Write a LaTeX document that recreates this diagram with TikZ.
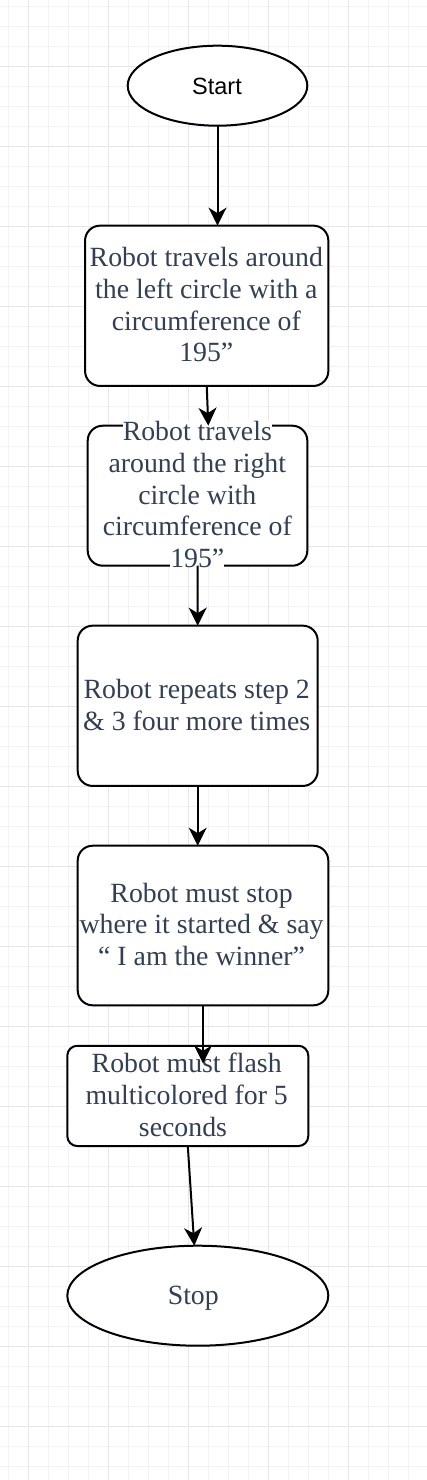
\documentclass[tikz,border=0pt]{standalone}
\usepackage{fontspec}
\usetikzlibrary{shapes.geometric,arrows.meta,calc}
\newfontfamily\serifbody{Liberation Serif}
\newfontfamily\sansbody{Liberation Sans}
\definecolor{slate}{HTML}{323F54}
\definecolor{gridmajor}{HTML}{E4E6EA}
\definecolor{gridminor}{HTML}{F2F3F6}
\tikzset{
  minorline/.style={draw=gridminor, line width=1pt},
  majorline/.style={draw=gridmajor, line width=1.3pt},
  flowbox/.style={draw, line width=2pt, rounded corners=15pt, fill=white, inner sep=0pt, outer sep=0pt},
  smallbox/.style={flowbox, rounded corners=10pt},
  term/.style={draw, ellipse, line width=2pt, fill=white, inner sep=0pt, outer sep=0pt},
  txt/.style={text=slate, font={\serifbody\fontsize{27.8pt}{31.7pt}\selectfont}, anchor=base, inner sep=0pt},
  bgtxt/.style={txt, fill=white},
  starttxt/.style={text=black, font={\sansbody\fontsize{23.5pt}{28pt}\selectfont}, anchor=base, inner sep=0pt},
  arr/.style={line width=2pt, -{Stealth[length=18pt,width=18pt,inset=5.5pt]}}
}
\begin{document}
\begin{tikzpicture}[x=1pt,y=-1pt]
\useasboundingbox (0,0) rectangle (427,1480);
\fill[white] (0,0) rectangle (427,1480);
% grid
\foreach \i in {0,...,20} \draw[minorline] ({8.3+20*\i},0) -- ({8.3+20*\i},1480);
\foreach \j in {0,...,73} \draw[minorline] (0,{6.5+20*\j}) -- (427,{6.5+20*\j});
\foreach \i in {0,...,4} \draw[majorline] ({28.3+80*\i},0) -- ({28.3+80*\i},1480);
\foreach \j in {0,...,17} \draw[majorline] (0,{66.5+80*\j}) -- (427,{66.5+80*\j});

% shapes
\node[term, minimum width=179.6pt, minimum height=80pt] (start) at (217.5,85.7) {};
\node[flowbox, minimum width=243.3pt, minimum height=160.3pt] (b1) at (206.7,305.8) {};
\node[flowbox, minimum width=219.6pt, minimum height=140pt] (b2) at (197.5,495.7) {};
\node[flowbox, minimum width=240pt, minimum height=160.3pt] (b3) at (197.7,705.8) {};
\node[flowbox, minimum width=250.6pt, minimum height=159.6pt] (b4) at (203,925.5) {};
\node[smallbox, minimum width=241pt, minimum height=100.3pt] (b5) at (187.8,1095.9) {};
\node[term, minimum width=261pt, minimum height=100pt] (stop) at (197.8,1295.7) {};

% texts
\node[starttxt] (tstart) at (217,94.2) {Start};

\node[txt] (t1a) at (206.3,266.7) {Robot travels around};
\node[txt] (t1b) at (206.3,298.4) {the left circle with a};
\node[txt] (t1c) at (206.3,330.1) {circumference of};
\node[txt] (t1d) at (206.3,361.8) {195”};

\node[bgtxt] (t2a) at (197.3,440.7) {Robot travels};
\node[bgtxt] (t2b) at (197.3,472.4) {around the right};
\node[bgtxt] (t2c) at (197.3,504.1) {circle with};
\node[bgtxt] (t2d) at (197.3,535.8) {circumference of};
\node[bgtxt] (t2e) at (197.3,567.5) {195”};

\node[txt] (t3a) at (196.7,698.4) {Robot repeats step 2};
\node[txt] (t3b) at (196.7,730.1) {\& 3 four more times};

\node[txt] (t4a) at (201.6,902.2) {Robot must stop};
\node[txt] (t4b) at (201.6,933.9) {where it started \& say};
\node[txt] (t4c) at (201.6,965.6) {“ I am the winner”};

\node[txt] (t5a) at (186.7,1072.6) {Robot must flash};
\node[txt] (t5b) at (186.7,1104.3) {multicolored for 5};
\node[txt] (t5c) at (183,1136) {seconds};

\node[txt] (tstop) at (193.3,1304.4) {Stop};

% connectors
\draw[arr] (start.south) -- (start.south |- b1.north);
\draw[arr] (b1.south) -- ($(b2.north)+(10.8,0)$);
\draw[arr] (b2.south) -- (b3.north);
\draw[arr] (b3.south) -- (b3.south |- b4.north);
\draw[arr] (b4.south) -- ($(b4.south |- b5.north)+(0,17.6)$);
\draw[arr] (b5.south) -- ($(stop.north)+(-3.5,0)$);
\end{tikzpicture}
\end{document}
